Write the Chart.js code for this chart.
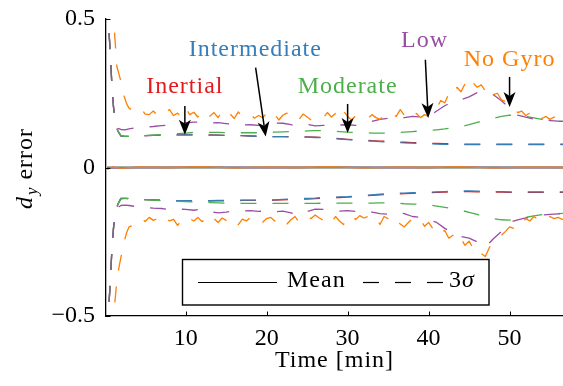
<!DOCTYPE html>
<html><head><meta charset="utf-8">
<script src="https://cdn.jsdelivr.net/npm/chart.js"></script>
<style>html,body{margin:0;padding:0;background:#fff;}canvas{display:block;}</style>
</head><body>
<canvas id="c" width="563" height="386"></canvas>
<script>
// ---------- DATA ----------
const timeSmooth = [0.3,0.5,0.7,0.9,1.1,1.3,1.6,2,2.5,3,
 4,5,6,7,8,9,10,11,12,13,
 14,15,16,17,18,19,20,21,22,23,
 24,25,26,27,28,29,30,31,32,33,
 34,35,36,37,38,39,40,41,42,43,
 44,45,46,47,48,49,50,51,52,53,54,55,56,57];
const timeGyro = [0.3,0.6,0.9,1.2,1.5,1.8,2.1,2.4,2.7,3.0,
 3.5,4,4.5,5,5.5,6,6.5,7,7.5,8,
 8.5,9,9.5,10,10.5,11,11.5,12,12.5,13,
 13.5,14,14.5,15,15.5,16,16.5,17,17.5,18,
 18.5,19,19.5,20,20.5,21,21.5,22,22.5,23,
 23.5,24,24.5,25,25.5,26,26.5,27,27.5,28,
 28.5,29,29.5,30,30.5,31,31.5,32,32.5,33,
 33.5,34,34.5,35,35.5,36,36.5,37,37.5,38,
 38.5,39,39.5,40,40.5,41,41.5,42,42.5,43,
 43.5,44,44.5,45,45.5,46,46.5,47,47.5,48,
 48.5,49,49.5,50,50.5,51,51.5,52,52.5,53,
 53.5,54,54.5,55,55.5,56,56.5,57];
const timeMean = [0.3,1,2,4,8,12,16,20,24,28,32,36,40,44,48,52,57];

const inertialUpper = [0.56,0.47,0.38,0.27,0.2,0.16,0.124,0.106,0.105,0.105,
 .106,.107,.108,.109,.11,.11,.11,.11,.11,.11,
 .109,.108,.108,.107,.106,.105,.105,.104,.104,.104,
 .103,.103,.102,.101,.099,.097,.095,.093,.092,.09,
 .089,.088,.086,.085,.084,.083,.082,.081,.08,.08,
 .079,.079,.079,.079,.079,.079,.079,.079,.079,.079,.079,.079,.079,.079];
const inertialLower = [-0.56,-0.47,-0.38,-0.27,-0.2,-0.165,-0.125,-0.104,-0.104,-0.105,
 -.107,-.108,-.109,-.11,-.111,-.112,-.112,-.112,-.112,-.112,
 -.112,-.112,-.112,-.111,-.111,-.111,-.111,-.11,-.109,-.108,
 -.107,-.106,-.105,-.103,-.102,-.101,-.1,-.098,-.096,-.094,
 -.092,-.09,-.089,-.088,-.087,-.086,-.085,-.084,-.083,-.082,
 -.081,-.081,-.082,-.082,-.083,-.083,-.084,-.084,-.084,-.084,-.084,-.084,-.084,-.084];
const intermediateUpper = [0.56,0.47,0.38,0.27,0.2,0.16,0.124,0.106,0.105,0.105,
 .106,.107,.108,.109,.11,.11,.11,.11,.11,.109,
 .109,.108,.107,.107,.106,.105,.104,.104,.104,.103,
 .103,.102,.101,.1,.098,.096,.094,.092,.09,.089,
 .087,.086,.085,.083,.082,.081,.08,.079,.078,.078,
 .077,.077,.077,.077,.077,.077,.077,.077,.077,.077,.077,.077,.077,.077];
const intermediateLower = [-0.56,-0.47,-0.38,-0.27,-0.2,-0.165,-0.125,-0.104,-0.104,-0.105,
 -.107,-.108,-.109,-.11,-.111,-.112,-.112,-.112,-.112,-.112,
 -.111,-.111,-.111,-.11,-.11,-.11,-.11,-.109,-.107,-.106,
 -.105,-.104,-.103,-.101,-.1,-.099,-.098,-.096,-.094,-.092,
 -.09,-.088,-.087,-.086,-.085,-.084,-.083,-.082,-.081,-.08,
 -.079,-.079,-.08,-.08,-.081,-.081,-.082,-.082,-.082,-.082,-.082,-.082,-.082,-.082];
const moderateUpper = [0.56,0.47,0.38,0.27,0.2,0.16,0.125,0.108,0.105,0.105,
 .106,.107,.109,.111,.113,.114,.116,.118,.119,.118,
 .118,.117,.117,.117,.117,.117,.118,.119,.12,.121,
 .122,.123,.124,.124,.123,.121,.119,.118,.117,.116,
 .116,.116,.117,.119,.121,.123,.124,.127,.13,.134,
 .138,.144,.152,.159,.166,.172,.176,.177,.172,.167,.162,.158,.156,.155];
const moderateLower = [-0.56,-0.47,-0.38,-0.27,-0.2,-0.165,-0.125,-0.106,-0.104,-0.104,
 -.106,-.108,-.11,-.112,-.113,-.114,-.115,-.116,-.117,-.118,
 -.119,-.12,-.12,-.121,-.121,-.121,-.121,-.121,-.121,-.121,
 -.121,-.121,-.121,-.12,-.12,-.12,-.12,-.12,-.12,-.12,
 -.119,-.119,-.12,-.122,-.123,-.124,-.126,-.13,-.134,-.139,
 -.144,-.151,-.158,-.166,-.172,-.176,-.177,-.174,-.168,-.163,-.159,-.156,-.155,-.154];
const lowUpper = [0.56,0.47,0.38,0.27,0.2,0.16,0.132,0.128,0.127,0.13,
 .134,.136,.138,.141,.143,.145,.15,.153,.152,.15,
 .151,.148,.145,.143,.144,.142,.147,.15,.149,.144,
 .143,.145,.14,.142,.14,.143,.144,.142,.148,.155,
 .162,.166,.163,.168,.172,.17,.172,.19,.208,.222,
 .228,.238,.252,.255,.245,.225,.2,.176,.17,.163,.16,.158,.156,.155];
const lowLower = [-0.56,-0.47,-0.38,-0.27,-0.2,-0.165,-0.135,-0.128,-0.127,-0.128,
 -.132,-.134,-.137,-.138,-.142,-.14,-.141,-.144,-.14,-.148,
 -.153,-.15,-.146,-.147,-.145,-.148,-.146,-.149,-.147,-.153,
 -.16,-.148,-.14,-.141,-.143,-.147,-.145,-.148,-.152,-.15,
 -.155,-.157,-.152,-.155,-.165,-.168,-.176,-.185,-.205,-.22,
 -.232,-.238,-.25,-.268,-.24,-.215,-.185,-.176,-.17,-.165,-.16,-.158,-.156,-.155];
const noGyroUpper = [1.1,0.75,0.53,0.46,0.34,0.31,0.28,0.24,0.215,0.2,
 .192,.185,.198,.18,.178,.19,.176,.188,.182,.195,
 .175,.183,.172,.2,.178,.186,.17,.192,.176,.173,
 .185,.168,.19,.172,.18,.165,.187,.17,.168,.178,
 .166,.175,.168,.182,.165,.178,.16,.176,.183,.168,
 .175,.162,.18,.17,.16,.165,.158,.168,.185,.17,
 .182,.165,.19,.172,.16,.175,.168,.172,.165,.178,
 .168,.162,.175,.168,.18,.172,.195,.176,.188,.172,
 .182,.168,.178,.172,.185,.2,.225,.218,.248,.24,
 .27,.255,.282,.262,.285,.27,.278,.258,.272,.245,
 .25,.228,.222,.205,.2,.185,.19,.175,.183,.168,
 .178,.165,.172,.162,.17,.158,.165,.16];
const noGyroLower = [-1.1,-0.75,-0.55,-0.47,-0.38,-0.33,-0.29,-0.25,-0.22,-0.2,
 -.195,-.185,-.17,-.182,-.168,-.178,-.172,-.185,-.17,-.18,
 -.175,-.195,-.178,-.186,-.172,-.18,-.168,-.182,-.175,-.19,
 -.172,-.185,-.17,-.178,-.165,-.176,-.192,-.174,-.18,-.168,
 -.176,-.17,-.184,-.172,-.168,-.18,-.165,-.175,-.19,-.176,
 -.165,-.185,-.17,-.164,-.172,-.16,-.17,-.178,-.168,-.185,
 -.165,-.18,-.192,-.168,-.16,-.175,-.162,-.17,-.165,-.178,
 -.17,-.192,-.165,-.172,-.16,-.178,-.19,-.2,-.185,-.172,
 -.182,-.175,-.198,-.185,-.205,-.195,-.218,-.212,-.238,-.228,
 -.252,-.24,-.262,-.248,-.272,-.265,-.29,-.3,-.27,-.25,
 -.24,-.228,-.215,-.2,-.205,-.185,-.19,-.172,-.18,-.165,
 -.175,-.168,-.178,-.165,-.172,-.168,-.175,-.17];
const inertialMean = [0,0,0,0,0,0,0,0,0,0,0,0,0,0,0,0,0];
const intermediateMean = [0,0,0,0,0,0,0,0,0,0,0,0,0,0,0,0,0];
const moderateMean = [0,0,0,0,0,0,0,0,0,0,0,0,0,0,0,0,0];
const lowMean = [-0.002,0,-0.001,0,0,0.001,0,0,0,0.001,0,0,0,0.001,0,0,0];
const noGyroMean = [-0.006,0.001,-0.002,0.001,0,0.002,-0.001,0.001,0,0.002,-0.001,0.001,0,0.002,-0.001,0.001,0];

const seriesNames = ['Inertial','Intermediate','Moderate','Low','No Gyro'];
const xTickValues = [10,20,30,40,50];
const yTickValues = [-0.5,0,0.5];

// ---------- STYLE / LAYOUT ----------
const FONT = "'Liberation Serif','Times New Roman',serif";
const colors = ['#e41a1c','#377eb8','#4daf4a','#984ea3','#ff7f00'];
const seriesDefs = [
  {t: timeSmooth, up: inertialUpper, lo: inertialLower, mean: inertialMean},
  {t: timeSmooth, up: intermediateUpper, lo: intermediateLower, mean: intermediateMean},
  {t: timeSmooth, up: moderateUpper, lo: moderateLower, mean: moderateMean},
  {t: timeSmooth, up: lowUpper, lo: lowLower, mean: lowMean},
  {t: timeGyro, up: noGyroUpper, lo: noGyroLower, mean: noGyroMean}
];
const labelAt  = [[9.9,0.252],[18.6,0.374],[30,0.252],[39.5,0.405],[50,0.343]];
const arrowFrom = [[9.9,0.207],[18.64,0.336],[30,0.214],[39.6,0.363],[50,0.305]];
const arrowTo   = [[9.9,0.110],[19.88,0.104],[30,0.116],[39.95,0.167],[50,0.204]];

const pts = (t, v) => v.map((y, i) => ({x: t[i], y}));
const datasets = [];
seriesDefs.forEach((s, i) => {
  const order = 5 - i;
  const base = {borderColor: colors[i], borderWidth: 1.3, pointRadius: 0, fill: false, tension: 0, order, borderCapStyle: 'butt', borderJoinStyle: 'round'};
  datasets.push(Object.assign({label: seriesNames[i] + ' +3σ', data: pts(s.t, s.up), borderDash: [16,16]}, base));
  datasets.push(Object.assign({label: seriesNames[i] + ' −3σ', data: pts(s.t, s.lo), borderDash: [16,16]}, base));
  datasets.push(Object.assign({label: seriesNames[i] + ' mean', data: pts(timeMean, s.mean)}, base));
});

function setFont(ctx, size, italic) {
  ctx.font = (italic ? 'italic ' : '') + size + 'px ' + FONT;
}

const decor = {
  id: 'decor',
  afterDraw(chart) {
    const ctx = chart.ctx, xs = chart.scales.x, ys = chart.scales.y, ca = chart.chartArea;
    ctx.save();
    // inward ticks
    ctx.strokeStyle = '#000'; ctx.lineWidth = 1;
    xTickValues.forEach(v => {
      const px = Math.round(xs.getPixelForValue(v)) + 0.5;
      ctx.beginPath(); ctx.moveTo(px, ca.bottom); ctx.lineTo(px, ca.bottom - 4.5); ctx.stroke();
    });
    yTickValues.forEach(v => {
      const py = Math.round(ys.getPixelForValue(v)) + 0.5;
      ctx.beginPath(); ctx.moveTo(ca.left, py); ctx.lineTo(ca.left + 4.5, py); ctx.stroke();
    });
    // annotations
    ctx.textBaseline = 'alphabetic'; ctx.textAlign = 'center';
    if ('letterSpacing' in ctx) ctx.letterSpacing = '1px';
    seriesNames.forEach((name, i) => {
      setFont(ctx, 24, false);
      ctx.fillStyle = colors[i];
      ctx.fillText(name, xs.getPixelForValue(labelAt[i][0]), ys.getPixelForValue(labelAt[i][1]));
      // arrow
      const x0 = xs.getPixelForValue(arrowFrom[i][0]), y0 = ys.getPixelForValue(arrowFrom[i][1]);
      const x1 = xs.getPixelForValue(arrowTo[i][0]), y1 = ys.getPixelForValue(arrowTo[i][1]);
      const len = Math.hypot(x1 - x0, y1 - y0), dx = (x1 - x0) / len, dy = (y1 - y0) / len;
      const nx = -dy, ny = dx, L = 15, W = 6, N = 11;
      ctx.strokeStyle = '#000'; ctx.fillStyle = '#000'; ctx.lineWidth = 1.5;
      ctx.beginPath(); ctx.moveTo(x0, y0); ctx.lineTo(x1 - dx * N, y1 - dy * N); ctx.stroke();
      ctx.beginPath();
      ctx.moveTo(x1, y1);
      ctx.lineTo(x1 - dx * L + nx * W, y1 - dy * L + ny * W);
      ctx.lineTo(x1 - dx * N, y1 - dy * N);
      ctx.lineTo(x1 - dx * L - nx * W, y1 - dy * L - ny * W);
      ctx.closePath(); ctx.fill();
    });
    // legend box
    const bx = 182.5, by = 259.5, bw = 306.5, bh = 45.5;
    ctx.fillStyle = '#fff'; ctx.fillRect(bx, by, bw, bh);
    ctx.strokeStyle = '#000'; ctx.lineWidth = 1.4; ctx.strokeRect(bx, by, bw, bh);
    ctx.lineWidth = 1.2;
    ctx.beginPath(); ctx.moveTo(198, 282.5); ctx.lineTo(277, 282.5); ctx.stroke();
    ctx.setLineDash([16,16]);
    ctx.beginPath(); ctx.moveTo(363, 282.5); ctx.lineTo(445, 282.5); ctx.stroke();
    ctx.setLineDash([]);
    ctx.fillStyle = '#000'; ctx.textAlign = 'left';
    setFont(ctx, 24, false); ctx.fillText('Mean', 287, 287);
    ctx.fillText('3', 449, 287);
    const w3 = ctx.measureText('3').width;
    setFont(ctx, 24, true); ctx.fillText('σ', 449 + w3, 287);
    // x title
    setFont(ctx, 24, false); ctx.textAlign = 'center';
    ctx.fillText('Time [min]', (ca.left + ca.right) / 2, 367);
    // y title
    ctx.translate(32, 169); ctx.rotate(-Math.PI / 2);
    setFont(ctx, 24, true); const wd = ctx.measureText('d').width;
    setFont(ctx, 17, true); const wy = ctx.measureText('y').width;
    setFont(ctx, 24, false); const we = ctx.measureText(' error').width;
    let sx = -(wd + wy + we) / 2;
    ctx.textAlign = 'left';
    setFont(ctx, 24, true); ctx.fillText('d', sx, 0); sx += wd + 1;
    setFont(ctx, 17, true); ctx.fillText('y', sx, 5); sx += wy;
    setFont(ctx, 24, false); ctx.fillText(' error', sx, 0);
    ctx.restore();
  }
};

new Chart(document.getElementById('c'), {
  type: 'line',
  data: {datasets},
  options: {
    responsive: false, animation: false, devicePixelRatio: 1,
    layout: {padding: {top: 19, right: 0, left: 0, bottom: 0}},
    plugins: {legend: {display: false}, tooltip: {enabled: false}, title: {display: false}},
    scales: {
      x: {
        type: 'linear', min: 0.16, max: 56.6,
        afterBuildTicks: s => { s.ticks = xTickValues.map(v => ({value: v})); },
        afterFit: s => { s.height = 70; s.paddingLeft = 0; s.paddingRight = 0; },
        ticks: {font: {family: FONT, size: 24}, color: '#000', padding: 8, maxRotation: 0, autoSkip: false, callback: v => String(v)},
        grid: {display: false, drawTicks: false},
        border: {display: true, color: '#000', width: 1.3}
      },
      y: {
        type: 'linear', min: -0.5, max: 0.5,
        afterBuildTicks: s => { s.ticks = yTickValues.map(v => ({value: v})); },
        afterFit: s => { s.width = 106; s.paddingTop = 0; s.paddingBottom = 0; },
        ticks: {font: {family: FONT, size: 24}, color: '#000', padding: 11, autoSkip: false,
          callback: v => v === 0 ? '0' : (v < 0 ? '\u2212' : '') + Math.abs(v).toFixed(1)},
        grid: {display: false, drawTicks: false},
        border: {display: true, color: '#000', width: 1.3}
      }
    }
  },
  plugins: [decor]
});
</script>
</body></html>
